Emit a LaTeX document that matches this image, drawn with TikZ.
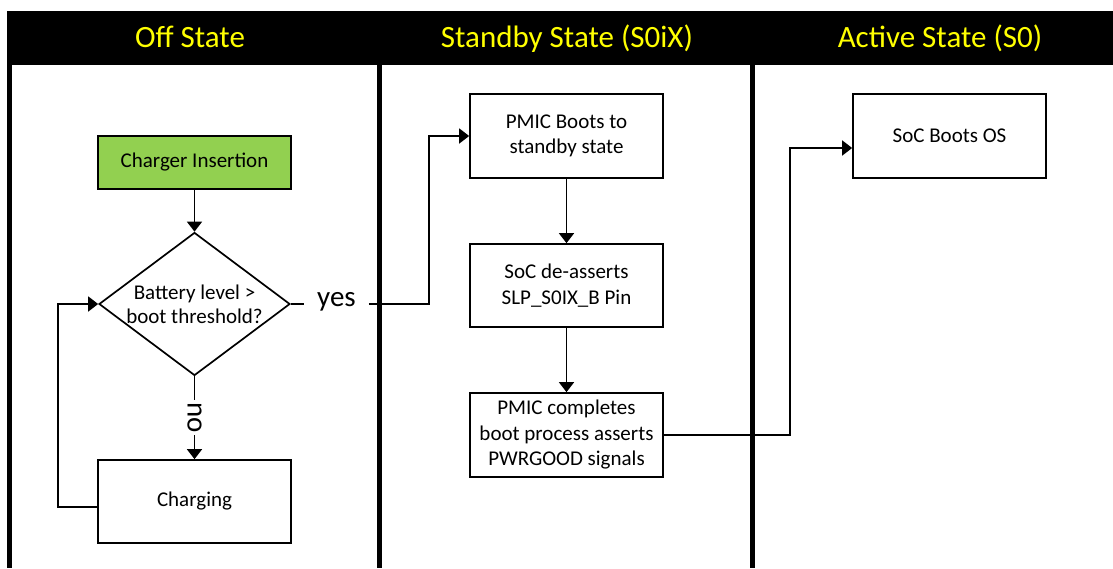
\documentclass[tikz,border=0pt]{standalone}
\usepackage{fontspec}
\setmainfont{Carlito}
\usetikzlibrary{shapes.geometric}
\usetikzlibrary{arrows.meta}

\definecolor{chggreen}{HTML}{92D050}
\definecolor{hdryellow}{HTML}{FFFF00}

\begin{document}
\begin{tikzpicture}[x=1pt,y=-1pt,
 box/.style={draw,line width=1.7pt,minimum width=193pt,minimum height=84pt,inner sep=0pt,align=center,font=\fontsize{21}{25.5}\selectfont},
 dec/.style={draw,shape=diamond,aspect=1.336,line width=1.7pt,minimum width=191pt,minimum height=143pt,inner sep=-6pt,align=center,font=\fontsize{21}{24}\selectfont},
 arr/.style={line width=1.7pt,-{Triangle[width=15pt,length=10pt]}},
 hdr/.style={anchor=base,text=hdryellow,font=\fontsize{31}{36}\selectfont},
 lbl/.style={fill=white,inner sep=2pt,font=\fontsize{29}{34}\selectfont}]
 \useasboundingbox (0,0) rectangle (1113,568);
 % swim lanes
 \fill (7,11) rectangle (1113,65);
 \draw[line width=4.5pt] (9.5,65) -- (9.5,568);
 \draw[line width=4.5pt] (379.5,65) -- (379.5,568);
 \draw[line width=4.5pt] (752.5,65) -- (752.5,568);
 \node[hdr] (offhdr) at (190,47) {Off State};
 \node[hdr] (stbhdr) at (567,47) {Standby State (S0iX)};
 \node[hdr] (acthdr) at (940,47) {Active State (S0)};

 % off state
 \node[box,fill=chggreen,minimum height=53pt] (chg) at (194.5,162.5) {Charger Insertion};
 \node[dec] (batt) at (194.5,304) {Battery level >\\boot threshold?};
 \node[box,minimum height=83pt] (charge) at (194.5,501.5) {Charging};
 \coordinate (loopbend) at (58,507);

 % standby state
 \node[box] (boot) at (566.5,136) {PMIC Boots to\\standby state};
 \node[box,minimum height=83pt] (deassert) at (566.5,285.5) {SoC de-asserts\\SLP\_S0IX\_B Pin};
 \node[box] (complete) at (566.5,435) {PMIC completes\\boot process asserts\\PWRGOOD signals};
 \node[lbl,inner xsep=13pt] (yes) at (336.5,302) {yes};
 \coordinate (yesbend) at (429,304);

 % active state
 \node[box] (os) at (949.5,136) {SoC Boots OS};
 \coordinate (osbend) at (790,435);

 \draw[arr] (chg) -- (batt);
 \draw[line width=1.7pt] (batt.east) -- (yes.west |- batt.east);
 \draw[arr] (yes.east |- yesbend) -- (yesbend) |- (boot.west);
 \draw[arr] (batt.south) -- node[lbl,rotate=-90] {no} (charge.north);
 \draw[arr] ([yshift=-5.5pt]charge.west) -- (loopbend) |- (batt.west);
 \draw[arr] (boot) -- (deassert);
 \draw[arr] (deassert) -- (complete);
 \draw[arr] (complete.east) -- (osbend) |- ([yshift=-12pt]os.west);
\end{tikzpicture}
\end{document}
